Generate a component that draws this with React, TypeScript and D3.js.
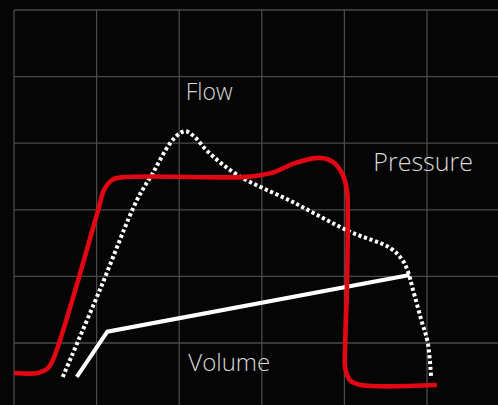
import { useEffect, useRef } from "react";
import * as d3 from "d3";

const W = 498;
const H = 405;

// grid units: 5 columns x 5 rows, origin at the bottom-left grid crossing
const gridX = [0, 1, 2, 3, 4, 5];
const gridY = [0, 1, 2, 3, 4, 5];

const pressure: [number, number][] = [
  [0, -0.45], [0.29, -0.45], [0.4, -0.39], [0.47, -0.26], [1.02, 2.0],
  [1.09, 2.3], [1.19, 2.45], [1.32, 2.49], [2.76, 2.49], [2.98, 2.52],
  [3.16, 2.57], [3.4, 2.7], [3.7, 2.78], [3.86, 2.72], [3.97, 2.55],
  [4.03, 2.3], [4.04, 1.92], [4.03, 0.8], [4.01, 0], [4.01, -0.38],
  [4.07, -0.56], [4.2, -0.63], [5.12, -0.63],
];

const flow: [number, number][] = [
  [0.59, -0.51], [1.04, 0.8], [1.49, 2.15], [1.68, 2.55], [1.89, 3.0],
  [2.01, 3.15], [2.08, 3.18], [2.19, 3.09], [2.35, 2.87], [2.71, 2.52],
  [3.37, 2.12], [4.07, 1.67], [4.55, 1.43], [4.7, 1.25], [4.77, 1.07],
  [4.83, 0.8], [4.93, 0.35], [5.01, 0], [5.05, -0.53],
];

const volume: [number, number][] = [
  [0.76, -0.51], [1.13, 0.17], [4.79, 1.02],
];

const seriesNames = ["Flow", "Pressure", "Volume"];

export default function App() {
  const svgRef = useRef<SVGSVGElement>(null);

  useEffect(() => {
    if (!svgRef.current) return;
    const svg = d3.select(svgRef.current);
    svg.selectAll("*").remove();

    const x = d3.scaleLinear().domain([0, 5]).range([14, 427]);
    const y = d3.scaleLinear().domain([0, 5]).range([343, 10]);

    svg.append("rect").attr("width", W).attr("height", H).attr("fill", "#050505");

    const grid = svg.append("g").attr("stroke", "#4a4a4a").attr("stroke-width", 1.3);
    gridX.forEach((d) => {
      grid.append("line")
        .attr("x1", x(d)).attr("x2", x(d))
        .attr("y1", y(5)).attr("y2", H);
    });
    gridY.forEach((d) => {
      grid.append("line")
        .attr("x1", x(0)).attr("x2", W)
        .attr("y1", y(d)).attr("y2", y(d));
    });

    const smooth = d3.line<[number, number]>()
      .x((d) => x(d[0]))
      .y((d) => y(d[1]))
      .curve(d3.curveCatmullRom.alpha(0.5));

    const straight = d3.line<[number, number]>()
      .x((d) => x(d[0]))
      .y((d) => y(d[1]));

    svg.append("path")
      .attr("d", smooth(flow))
      .attr("fill", "none")
      .attr("stroke", "#ffffff")
      .attr("stroke-width", 4)
      .attr("stroke-dasharray", "3.2 2.6");

    svg.append("path")
      .attr("d", straight(volume))
      .attr("fill", "none")
      .attr("stroke", "#ffffff")
      .attr("stroke-width", 4);

    svg.append("path")
      .attr("d", smooth(pressure))
      .attr("fill", "none")
      .attr("stroke", "#e30613")
      .attr("stroke-width", 4.6)
      .attr("stroke-linejoin", "round");

    // label anchors in grid units, font sizes in px
    const spots = [
      { x: 2.08, y: 3.65, size: 23 },
      { x: 4.35, y: 2.58, size: 25 },
      { x: 2.11, y: -0.42, size: 24 },
    ];

    seriesNames.forEach((name, i) => {
      svg.append("text")
        .attr("x", x(spots[i].x))
        .attr("y", y(spots[i].y))
        .attr("fill", "#d8d8d8")
        .attr("font-family", "'Open Sans', 'Noto Sans', sans-serif")
        .attr("font-weight", 300)
        .attr("font-size", spots[i].size)
        .text(name);
    });
  }, []);

  return (
    <svg
      ref={svgRef}
      width={W}
      height={H}
      viewBox={`0 0 ${W} ${H}`}
      style={{ position: "fixed", left: 0, top: 0, display: "block" }}
    />
  );
}
